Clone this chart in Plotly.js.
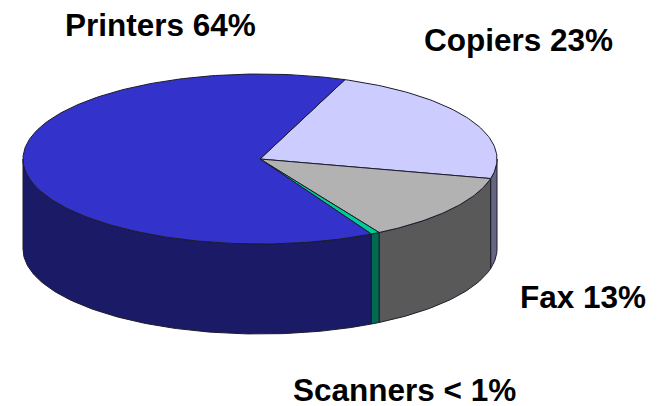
<!DOCTYPE html>
<html><head><meta charset="utf-8">
<script src="https://cdn.plot.ly/plotly-3.0.1.min.js"></script>
<style>html,body{margin:0;padding:0;background:#fff}#c{width:659px;height:406px}</style>
</head><body><div id="c"></div>
<script>
var categories = ["Printers","Copiers","Fax","Scanners"];
var sliceValues = [64,23,13,0.6];
var labels = ["Printers 64%","Copiers 23%","Fax 13%","Scanners < 1%"];
var topColors = ["#3333cc","#ccccff","#b2b2b2","#00cc99"];
var sideColors = ["#1a1a66","#666680","#595959","#006b4f"];
var labelX = [63,422,518,291];
var labelY = [25,40,297,390];
var startDeg = 21;
var cx=260, cy=159, rx=237, ry=85, depth=90;

function pt(a,d){var r=a*Math.PI/180;return [cx+rx*Math.sin(r), cy-ry*Math.cos(r)+(d||0)];}
function arc(a0,a1,d){var n=Math.max(2,Math.ceil(Math.abs(a1-a0))),o=[];
  for(var i=0;i<=n;i++){o.push(pt(a0+(a1-a0)*i/n,d));}return o;}
function poly(points,fill,name){
  return {type:"scatter",mode:"lines",x:points.map(function(p){return p[0]}),y:points.map(function(p){return p[1]}),
    fill:"toself",fillcolor:fill,line:{color:"#1c1c2c",width:1,shape:"linear"},hoverinfo:"name",name:name,showlegend:false};
}
var total=sliceValues.reduce(function(a,b){return a+b},0);
var order=[1,2,3,0], a=startDeg, sides=[], tops=[];
order.forEach(function(i){
  var a1=a+sliceValues[i]/total*360;
  var s=Math.max(a,90), e=Math.min(a1,270);
  if(e>s){ sides.push(poly(arc(s,e,0).concat(arc(e,s,depth)).concat([pt(s,0)]),sideColors[i],categories[i]+" side")); }
  tops.push(poly([[cx,cy]].concat(arc(a,a1,0)).concat([[cx,cy]]),topColors[i],categories[i]));
  a=a1;
});
var annotations=labels.map(function(t,i){return {text:"<b>"+t.replace("<","&lt;")+"</b>",x:labelX[i],y:labelY[i],xref:"x",yref:"y",xanchor:"left",yanchor:"middle",
  showarrow:false,font:{family:"Liberation Sans, Arial, sans-serif",size:31.5,color:"#000"},captureevents:false};});
Plotly.newPlot("c",sides.concat(tops),{
  width:659,height:406,margin:{l:0,r:0,t:0,b:0},paper_bgcolor:"#fff",plot_bgcolor:"#fff",showlegend:false,
  xaxis:{range:[0,659],visible:false,fixedrange:true},
  yaxis:{range:[406,0],visible:false,fixedrange:true},
  annotations:annotations
},{displayModeBar:false,staticPlot:true});
</script></body></html>
